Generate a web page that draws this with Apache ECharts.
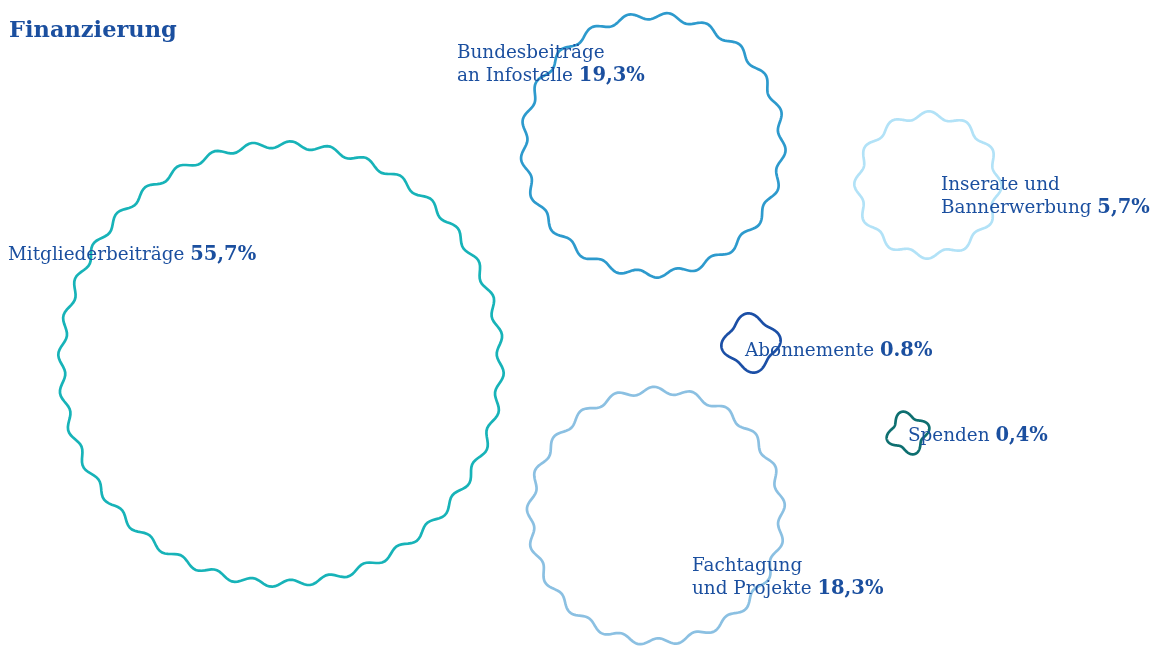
<!DOCTYPE html>
<html><head><meta charset="utf-8">
<script src="https://cdn.jsdelivr.net/npm/echarts@6/dist/echarts.min.js"></script>
<style>html,body{margin:0;padding:0;background:#fff}#c{width:1152px;height:646px}</style>
</head><body><div id="c"></div>
<script>
// ---- data ----
var categories = ['Mitgliederbeiträge', 'Bundesbeiträge\nan Infostelle', 'Inserate und\nBannerwerbung', 'Abonnemente', 'Spenden', 'Fachtagung\nund Projekte'];
var shares = [55.7, 19.3, 5.7, 0.8, 0.4, 18.3];
var shareLabels = ['55,7%', '19,3%', '5,7%', '0.8%', '0,4%', '18,3%'];

// ---- layout (bubble centres in layout units, label offsets in px) ----
var centreX = [281, 653, 928, 751, 908, 656];
var centreY = [364, 145, 185, 343, 433, 516];
var labelDX = [-273, -196, 13, -6, 0, 36];
var labelDY = [-120.5, -103.5, -11.5, -3.5, -8.5, 38.5];
var colors = ['#17b3b8', '#2d9acd', '#b2e2f7', '#1b4fa6', '#0e6f70', '#8bc0e2'];
var textColor = '#1b4f9f';
var FONT = '"DejaVu Serif", serif';
var K = 29.4, AMP = 3.5, WAVELEN = 38;

var data = shares.map(function (v, i) { return [centreX[i], centreY[i], v, i]; });

function renderItem(params, api) {
  var i = api.value(3);
  var c = api.coord([api.value(0), api.value(1)]);
  var R = api.size([K * Math.sqrt(api.value(2)), 0])[0];
  var n = Math.max(4, Math.round(2 * Math.PI * R / WAVELEN));
  var pts = [];
  var N = 480;
  var ph = i * 0.7;
  for (var k = 0; k <= N; k++) {
    var t = k / N * Math.PI * 2;
    var r = R + AMP * Math.sin(n * t + ph);
    pts.push([c[0] + r * Math.cos(t), c[1] + r * Math.sin(t)]);
  }
  var lines = categories[i].split('\n');
  var txt = lines.map(function (l, j) {
    return j === lines.length - 1 ? '{n|' + l + ' }{v|' + shareLabels[i] + '}' : '{n|' + l + '}';
  }).join('\n');
  return {
    type: 'group',
    children: [
      { type: 'polygon', shape: { points: pts }, style: { fill: 'none', stroke: colors[i], lineWidth: 2.7 } },
      {
        type: 'text', x: c[0] + labelDX[i], y: c[1] + labelDY[i],
        style: {
          text: txt, align: 'left', verticalAlign: 'top',
          fill: textColor, fontFamily: FONT, fontSize: 18.4,
          rich: {
            n: { fontFamily: FONT, fontSize: 18.4, fill: textColor, color: textColor, lineHeight: 23 },
            v: { fontFamily: FONT, fontSize: 19.5, fontWeight: 'bold', fill: textColor, color: textColor, lineHeight: 23 }
          }
        }
      }
    ]
  };
}

var chart = echarts.init(document.getElementById('c'));
chart.setOption({
  backgroundColor: '#fff',
  animation: false,
  title: { text: 'Finanzierung', left: 4, top: 15, textStyle: { fontFamily: FONT, fontSize: 22.5, fontWeight: 'bold', color: textColor } },
  grid: { left: 0, right: 0, top: 0, bottom: 0 },
  xAxis: { type: 'value', min: 0, max: 1152, show: false },
  yAxis: { type: 'value', min: 0, max: 646, inverse: true, show: false },
  series: [{ type: 'custom', renderItem: renderItem, data: data, clip: false }]
});
</script></body></html>
